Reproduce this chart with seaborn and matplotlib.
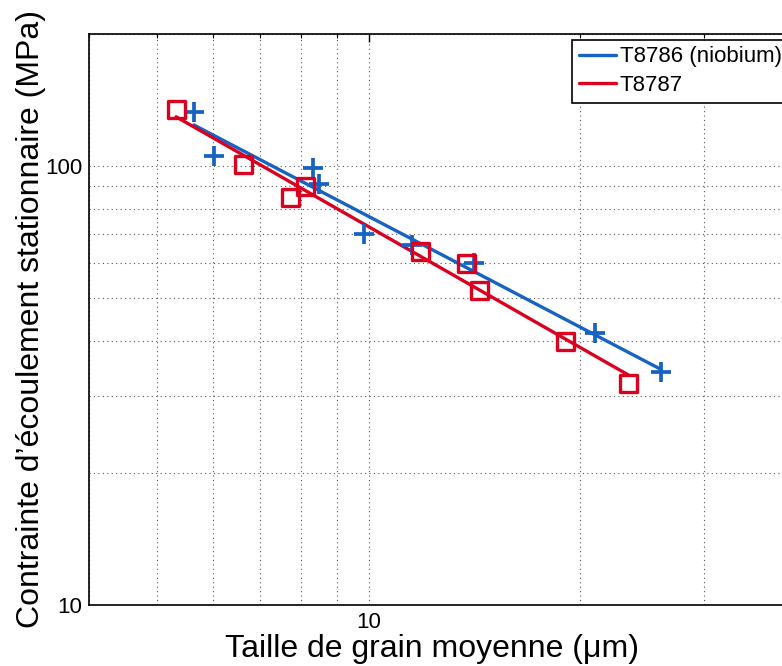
import numpy as np
import pandas as pd
import matplotlib
matplotlib.use("Agg")
import matplotlib.pyplot as plt
import matplotlib.ticker as mticker
import seaborn as sns

# grain size (um) and steady-state flow stress (MPa)
taille_nb = [5.64, 6.03, 8.34, 8.50, 9.83, 11.54, 14.11, 21.0, 26.05]
contrainte_nb = [132.8, 105.6, 98.8, 90.9, 70.0, 66.1, 60.0, 41.7, 34.0]
taille_ref = [5.32, 6.63, 7.73, 8.14, 11.86, 13.77, 14.35, 19.05, 23.4]
contrainte_ref = [134.8, 101.0, 84.9, 90.0, 63.8, 60.0, 52.0, 39.9, 32.0]
labels = ["T8786 (niobium)", "T8787"]

bleu = "#1763c4"
rouge = "#dc0020"

sns.set_style("white")
plt.rcParams["font.family"] = ["Liberation Sans", "DejaVu Sans"]
plt.rcParams["text.color"] = "black"
plt.rcParams["axes.labelcolor"] = "black"
plt.rcParams["xtick.color"] = "black"
plt.rcParams["ytick.color"] = "black"

fig = plt.figure(figsize=(7.82, 6.66), dpi=100)
ax = fig.add_axes([89 / 782, 61 / 666, 703 / 782, 571 / 666])
ax.set_xscale("log")
ax.set_yscale("log")


def ajustement(x, y):
    # loi puissance ajustee en log-log
    p = np.polyfit(np.log10(x), np.log10(y), 1)
    xs = np.array([min(x), max(x)])
    return pd.DataFrame({"x": xs, "y": 10 ** np.polyval(p, np.log10(xs))})


fit_nb = ajustement(taille_nb, contrainte_nb)
fit_ref = ajustement(taille_ref, contrainte_ref)

sns.lineplot(data=fit_nb, x="x", y="y", color=bleu, lw=2.4, label=labels[0], ax=ax, zorder=3)
sns.lineplot(data=fit_ref, x="x", y="y", color=rouge, lw=2.4, label=labels[1], ax=ax, zorder=3)

sns.scatterplot(x=taille_nb, y=contrainte_nb, marker="+", s=190, color=bleu,
                linewidth=2.7, ax=ax, zorder=4)
sns.scatterplot(x=taille_ref, y=contrainte_ref, marker="s", s=150, facecolor="none",
                edgecolor=rouge, linewidth=2.4, ax=ax, zorder=5)

ax.set_xlim(4, 40)
ax.set_ylim(10, 200)

ax.xaxis.set_major_locator(mticker.FixedLocator([10]))
ax.yaxis.set_major_locator(mticker.FixedLocator([10, 100]))
ax.xaxis.set_minor_locator(mticker.LogLocator(base=10, subs=np.arange(2, 10)))
ax.yaxis.set_minor_locator(mticker.LogLocator(base=10, subs=np.arange(2, 10)))
ax.xaxis.set_major_formatter(mticker.FormatStrFormatter("%d"))
ax.yaxis.set_major_formatter(mticker.FormatStrFormatter("%d"))
ax.xaxis.set_minor_formatter(mticker.NullFormatter())
ax.yaxis.set_minor_formatter(mticker.NullFormatter())

ax.tick_params(which="both", direction="in", top=True, right=True, color="black",
               labelcolor="black")
ax.tick_params(which="major", length=6, width=1, labelsize=16, pad=5)
ax.tick_params(which="minor", length=3, width=0.8)

ax.grid(True, which="both", linestyle=(0, (1, 3)), color="#555555", linewidth=0.8)
for s in ax.spines.values():
    s.set_color("black")
    s.set_linewidth(1.2)

ax.set_xlabel("Taille de grain moyenne (\u03bcm)", fontsize=23, color="black")
ax.set_ylabel("Contrainte d\u2019\u00e9coulement stationnaire (MPa)", fontsize=23, color="black")
ax.xaxis.label.set_va("baseline")
ax.xaxis.set_label_coords(0.488, -0.091, transform=ax.transAxes)
ax.yaxis.set_label_coords(-0.061, 0.5, transform=ax.transAxes)

leg = ax.legend(loc="upper left", bbox_to_anchor=(0.687, 0.99), fontsize=16,
                frameon=True, fancybox=False, framealpha=1, edgecolor="black",
                handlelength=1.7, handletextpad=0.15, borderpad=0.3, labelspacing=0.35,
                borderaxespad=0)
leg.get_frame().set_linewidth(1.2)
for t in leg.get_texts():
    t.set_color("black")

fig.savefig("out.png", dpi=100)
